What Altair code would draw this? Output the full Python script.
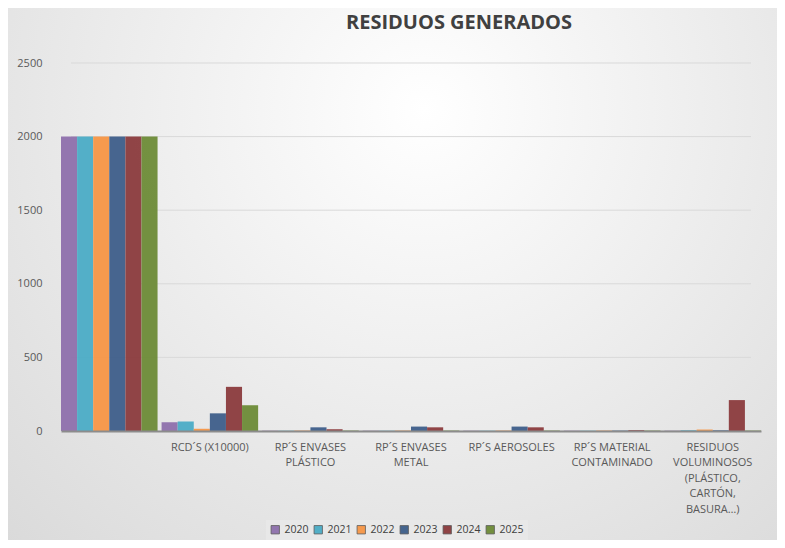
import altair as alt
import pandas as pd

title_text = "RESIDUOS GENERADOS"
categories = [
    " ",
    "RCD´S (X10000)",
    "RP´S ENVASES\nPLÁSTICO",
    "RP´S ENVASES\nMETAL",
    "RP´S AEROSOLES",
    "RP´S MATERIAL\nCONTAMINADO",
    "RESIDUOS\nVOLUMINOSOS\n(PLÁSTICO,\nCARTÓN,\nBASURA…)",
]
years = ["2020", "2021", "2022", "2023", "2024", "2025"]
colors = ["#8e70ac", "#4bacc6", "#f79646", "#3e5e8a", "#8b3b3d", "#6d8b37"]

values = {
    "2020": [2000, 60, 2, 2, 2, 2, 2],
    "2021": [2000, 65, 2, 2, 2, 2, 5],
    "2022": [2000, 15, 3, 3, 3, 3, 10],
    "2023": [2000, 120, 25, 30, 30, 3, 5],
    "2024": [2000, 300, 12, 25, 25, 6, 210],
    "2025": [2000, 175, 3, 3, 3, 3, 3],
}
y_ticks = [0, 500, 1000, 1500, 2000, 2500]

rows = []
for y in years:
    for c, v in zip(categories, values[y]):
        rows.append({"cat": c, "year": y, "value": v})
df = pd.DataFrame(rows)
grid_df = pd.DataFrame({"tick": y_ticks})

W, H = 700, 368
one = pd.DataFrame({"a": [0]})

bg = alt.Chart(one).mark_rect(
    clip=False,
    color=alt.Gradient(
        gradient="radial",
        stops=[
            alt.GradientStop(offset=0, color="#ffffff"),
            alt.GradientStop(offset=1, color="#d6d6d6"),
        ],
        x1=0.55, y1=0.3, x2=0.55, y2=0.3, r1=0, r2=0.85,
    ),
).encode(
    x=alt.value(-69), x2=alt.value(W + 16),
    y=alt.value(-71), y2=alt.value(H + 109),
)

title = alt.Chart(one).mark_text(
    font="Open Sans", fontSize=20, fontWeight="bold", color="#404040",
    align="center", baseline="middle", clip=False,
).encode(
    x=alt.value(398), y=alt.value(-40), text=alt.value(title_text),
)

grid = alt.Chart(grid_df).mark_rule(color="#d9d9d9", strokeWidth=1).encode(
    y=alt.Y("tick:Q", scale=alt.Scale(domain=[0, 2500])),
    x=alt.value(10), x2=alt.value(W - 10),
)

bars = alt.Chart(df).mark_bar(stroke=None, opacity=0.95).encode(
    x=alt.X(
        "cat:N", sort=categories, title=None,
        scale=alt.Scale(paddingInner=0.04, paddingOuter=0.0),
        axis=alt.Axis(
            labelAngle=0, labelExpr="split(datum.label, '\\n')",
            labelFont="Open Sans", labelFontSize=11, labelColor="#595959",
            labelPadding=10, ticks=False, domainColor="#8c8c8c",
            domainWidth=2, labelLineHeight=15.5, labelBaseline="top",
            zindex=1,
        ),
    ),
    xOffset=alt.XOffset("year:N", sort=years),
    y=alt.Y(
        "value:Q", title=None,
        scale=alt.Scale(domain=[0, 2500]),
        axis=alt.Axis(
            values=y_ticks, grid=False, ticks=False, domain=False, format="d",
            labelFont="Open Sans", labelFontSize=11, labelColor="#595959",
            labelPadding=19, zindex=1,
        ),
    ),
    color=alt.Color(
        "year:N", sort=years,
        scale=alt.Scale(domain=years, range=colors),
        legend=alt.Legend(
            title=None, orient="none", direction="horizontal",
            legendX=205, legendY=457, symbolType="square", symbolSize=70,
            symbolStrokeColor="#555555", symbolStrokeWidth=0.8,
            labelFont="Open Sans", labelFontSize=10.5, labelColor="#404040",
            columnPadding=3, fillColor="#e8e8e8", padding=4, zindex=1,
        ),
    ),
)

chart = alt.layer(bg, grid, bars, title).properties(
    width=W, height=H,
    autosize=alt.AutoSizeParams(type="none"),
    padding={"left": 53, "top": 55, "right": 16, "bottom": 109},
).configure_view(stroke=None).configure(background="#e4e4e4")

chart.save("out.html", embed_options={"renderer": "svg", "actions": False})
